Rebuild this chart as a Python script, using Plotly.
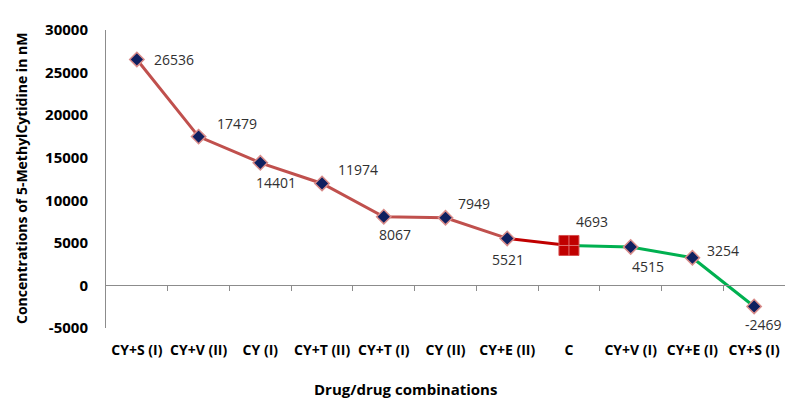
import plotly.graph_objects as go

categories = ["CY+S (I)", "CY+V (II)", "CY (I)", "CY+T (II)", "CY+T (I)", "CY (II)",
              "CY+E (II)", "C", "CY+V (I)", "CY+E (I)", "CY+S (I)"]
values = [26536, 17479, 14401, 11974, 8067, 7949, 5521, 4693, 4515, 3254, -2469]
y_ticks = [-5000, 0, 5000, 10000, 15000, 20000, 25000, 30000]

xs = list(range(len(categories)))
ci = categories.index("C")

# label offsets in pixels (dx right, dy down)
label_offsets = [(37, 0), (38, -13), (16, 20), (36, -14), (11, 18), (28, -14),
                 (1, 21), (23, -24), (17, 20), (31, -7), (9, 18)]

FONT = "Open Sans"
fig = go.Figure()

# lines
fig.add_trace(go.Scatter(x=xs[:ci], y=values[:ci], mode="lines",
                         line=dict(color="#C0504D", width=3), hoverinfo="skip"))
fig.add_trace(go.Scatter(x=xs[ci - 1:ci + 1], y=values[ci - 1:ci + 1], mode="lines",
                         line=dict(color="#C00000", width=3), hoverinfo="skip"))
fig.add_trace(go.Scatter(x=xs[ci:], y=values[ci:], mode="lines",
                         line=dict(color="#00B050", width=3), hoverinfo="skip"))

# diamond markers
mx = [x for i, x in enumerate(xs) if i != ci]
my = [v for i, v in enumerate(values) if i != ci]
fig.add_trace(go.Scatter(x=mx, y=my, mode="markers",
                         marker=dict(symbol="diamond", size=11, color="#0F2060",
                                     line=dict(color="#D98B89", width=1.5))))
# control marker
fig.add_trace(go.Scatter(x=[xs[ci]], y=[values[ci]], mode="markers",
                         marker=dict(symbol="square", size=20, color="#C00000",
                                     line=dict(color="#D65050", width=1))))
fig.add_trace(go.Scatter(x=[xs[ci]], y=[values[ci]], mode="markers",
                         marker=dict(symbol="cross-thin-open", size=15, color="#E07070",
                                     line=dict(color="#E07070", width=1))))

# x axis line at y=0 with boundary ticks
fig.add_trace(go.Scatter(x=[xs[0]], y=[values[0]], xaxis="x2", yaxis="y",
                         mode="markers", marker=dict(opacity=0), hoverinfo="skip"))

for i, (x, v) in enumerate(zip(xs, values)):
    dx, dy = label_offsets[i]
    fig.add_annotation(x=x, y=v, text=str(v), showarrow=False, xshift=dx, yshift=-dy,
                       font=dict(family=FONT, size=14, color="#303030"))

ymin, ymax = y_ticks[0], y_ticks[-1]
fig.update_layout(
    width=787, height=404,
    margin=dict(l=106, r=2, t=30, b=76),
    paper_bgcolor="white", plot_bgcolor="white",
    showlegend=False,
    font=dict(family=FONT, color="#000000"),
    xaxis=dict(range=[-0.5, len(categories) - 0.5], tickvals=xs, ticktext=categories,
               tickangle=0, showline=False, showgrid=False, zeroline=False, ticks="",
               automargin=False,
               tickfont=dict(family=FONT, size=14, color="#000000", weight="bold"),
               ticklabelstandoff=12),
    xaxis2=dict(range=[-0.5, len(categories) - 0.5], overlaying="x", anchor="free",
                position=(0 - ymin) / (ymax - ymin), side="bottom", automargin=False,
                showline=True, linecolor="#8C8C8C", linewidth=1,
                tickvals=[x + 0.5 for x in xs[:-1]], ticks="outside", ticklen=5,
                tickcolor="#8C8C8C", showticklabels=False, showgrid=False, zeroline=False),
    yaxis=dict(range=[ymin, ymax], tickvals=y_ticks, ticktext=[str(t) for t in y_ticks],
               showgrid=False, zeroline=False, automargin=False,
               showline=True, linecolor="#8C8C8C", linewidth=1, ticks="",
               tickfont=dict(family=FONT, size=15, color="#000000", weight="bold"),
               ticklabelstandoff=14),
)

fig.add_annotation(xref="paper", yref="paper", x=(21 - 106) / 679, y=0.5,
                   text="Concentrations of 5-MethylCytidine in nM", textangle=-90,
                   showarrow=False, xanchor="center", yanchor="middle",
                   font=dict(family=FONT, size=14, color="#000000", weight="bold"))
fig.add_annotation(xref="paper", yref="paper", x=(405 - 106) / 679, y=-(389 - 328) / 298,
                   text="Drug/drug combinations", showarrow=False,
                   xanchor="center", yanchor="middle",
                   font=dict(family=FONT, size=15, color="#000000", weight="bold"))

fig.write_html("out.html", config={"displayModeBar": False},
               post_script="document.body.style.margin='0px';"
                           "document.body.style.overflow='hidden';")
